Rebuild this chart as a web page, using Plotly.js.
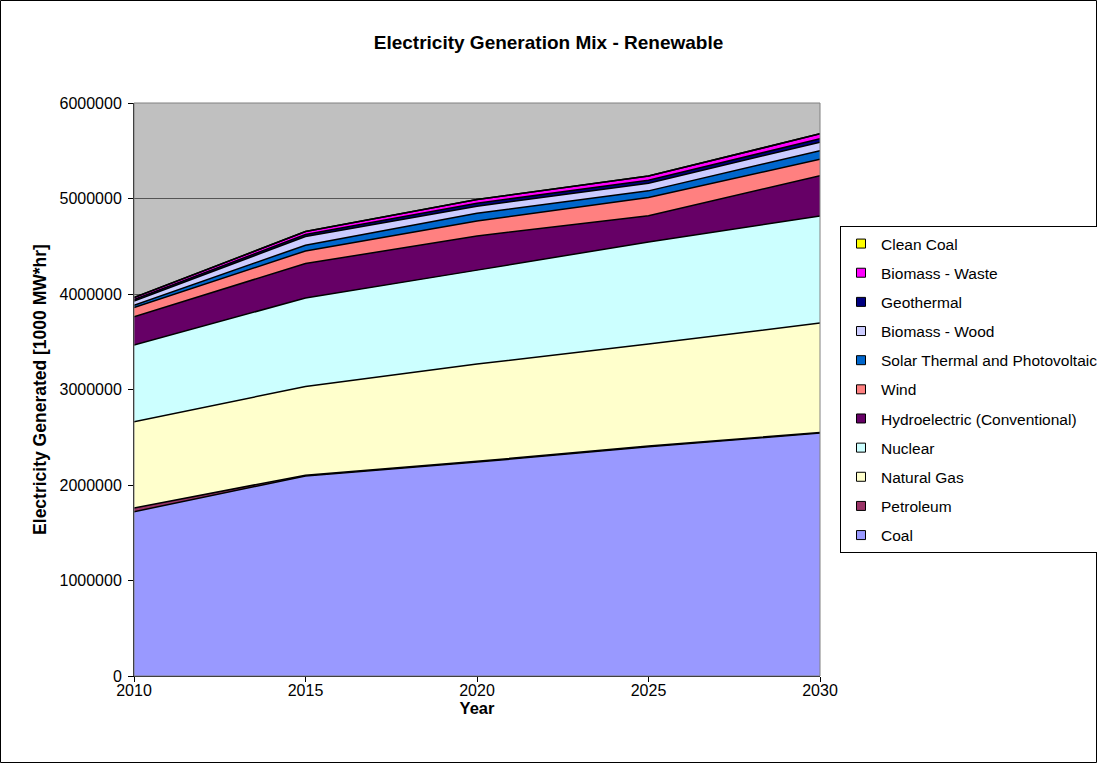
<!DOCTYPE html>
<html>
<head>
<meta charset="utf-8">
<script src="https://cdn.plot.ly/plotly-3.0.1.min.js"></script>
<style>
  html, body { margin: 0; padding: 0; background: #fff; }
  #chart { width: 1097px; height: 763px; }
</style>
</head>
<body>
<div id="chart"></div>
<script>
const years = [2010, 2015, 2020, 2025, 2030];

const coal          = [1720000, 2095000, 2240000, 2400000, 2545000];
const petroleum     = [  40000,    8000,    8000,    8000,    5000];
const naturalGas    = [ 903000,  928000, 1019000, 1068000, 1146000];
const nuclear       = [ 803000,  927000,  983000, 1069000, 1121000];
const hydro         = [ 296000,  361000,  357000,  275000,  422000];
const wind          = [  95000,  132000,  157000,  190000,  171000];
const solar         = [  25000,   60000,   82000,   70000,   90000];
const biomassWood   = [  45000,   91000,   74000,   80000,   90000];
const geothermal    = [  15000,   21000,   30000,   30000,   35000];
const biomassWaste  = [  20000,   31000,   40000,   45000,   52000];
const cleanCoal     = [      0,       0,       0,       0,       0];

const seriesNames = ["Coal", "Petroleum", "Natural Gas", "Nuclear",
  "Hydroelectric (Conventional)", "Wind", "Solar Thermal and Photovoltaic",
  "Biomass - Wood", "Geothermal", "Biomass - Waste", "Clean Coal"];
const seriesValues = [coal, petroleum, naturalGas, nuclear, hydro, wind, solar,
  biomassWood, geothermal, biomassWaste, cleanCoal];
const seriesColors = ["#9999FF", "#993366", "#FFFFCC", "#CCFFFF", "#660066",
  "#FF8080", "#0066CC", "#CCCCFF", "#000080", "#FF00FF", "#FFFF00"];

const yTicks = [0, 1000000, 2000000, 3000000, 4000000, 5000000, 6000000];

const FONT = "Liberation Sans, Arial, sans-serif";

// stacked areas
const areaTraces = seriesNames.map((name, i) => ({
  x: years,
  y: seriesValues[i],
  name: name,
  type: "scatter",
  mode: "lines",
  stackgroup: "one",
  legendgroup: "g" + i,
  showlegend: false,
  fillcolor: seriesColors[i],
  line: { color: "#000000", width: 1.5 },
  hoverinfo: "x+y+name"
}));

// legend entries with square keys (no drawn marks)
const legendTraces = seriesNames.map((name, i) => ({
  x: [null],
  y: [null],
  name: name,
  type: "scatter",
  mode: "markers",
  legendgroup: "g" + i,
  legendrank: 100 - i,
  showlegend: true,
  marker: { symbol: "square", size: 9, color: seriesColors[i], line: { color: "#000000", width: 1 } },
  hoverinfo: "skip"
}));

const pw = 686, ph = 573, ml = 134, mt = 103;
const layout = {
  width: 1097,
  height: 763,
  margin: { l: ml, r: 1097 - ml - pw, t: mt, b: 763 - mt - ph, pad: 0, autoexpand: false },
  paper_bgcolor: "#FFFFFF",
  plot_bgcolor: "#C0C0C0",
  font: { family: FONT, size: 16, color: "#000000" },
  showlegend: true,
  title: {
    text: "<b>Electricity Generation Mix - Renewable</b>",
    font: { family: FONT, size: 19, color: "#000000" },
    x: 0.5, xanchor: "center", xref: "container",
    y: 1 - 42 / 763, yanchor: "middle", yref: "container"
  },
  xaxis: {
    range: [2010, 2030],
    tickvals: years,
    ticktext: years.map(String),
    ticks: "outside",
    ticklen: 5,
    tickcolor: "#000000",
    ticklabelstandoff: -5,
    showline: true,
    linecolor: "#000000",
    linewidth: 1,
    showgrid: false,
    zeroline: false,
    tickfont: { family: FONT, size: 16 },
    title: { text: "<b>Year</b>", font: { family: FONT, size: 16.5 }, standoff: 0 }
  },
  yaxis: {
    range: [0, 6000000],
    tickvals: yTicks,
    ticktext: yTicks.map(String),
    ticks: "outside",
    ticklen: 5,
    tickcolor: "#000000",
    ticklabelstandoff: 3,
    showline: true,
    linecolor: "#000000",
    linewidth: 1,
    showgrid: true,
    gridcolor: "#555555",
    gridwidth: 1,
    zeroline: false,
    tickfont: { family: FONT, size: 16 },
    title: { text: "<b>Electricity Generated [1000 MW*hr]</b>", font: { family: FONT, size: 17.5 }, standoff: 8 }
  },
  legend: {
    x: (840 - ml) / pw,
    xanchor: "left",
    y: (mt + ph - 226) / ph,
    yanchor: "top",
    traceorder: "grouped",
    tracegroupgap: 6,
    bgcolor: "#FFFFFF",
    bordercolor: "#000000",
    borderwidth: 1,
    font: { family: FONT, size: 15.5, color: "#000000" },
    itemwidth: 30
  },
  shapes: [
    { type: "rect", xref: "paper", yref: "paper", x0: 0, x1: 1, y0: 0, y1: 1,
      line: { color: "#808080", width: 1 }, fillcolor: "rgba(0,0,0,0)", layer: "above" },
    { type: "rect", xref: "paper", yref: "paper",
      x0: -ml / pw + 0.5 / pw, x1: (1096.5 - ml) / pw,
      y0: -(763 - mt - ph) / ph + 0.5 / ph, y1: (mt + ph - 0.5) / ph,
      line: { color: "#000000", width: 1 }, fillcolor: "rgba(0,0,0,0)", layer: "above" }
  ]
};

Plotly.newPlot("chart", areaTraces.concat(legendTraces), layout, { displayModeBar: false, staticPlot: true });
</script>
</body>
</html>
